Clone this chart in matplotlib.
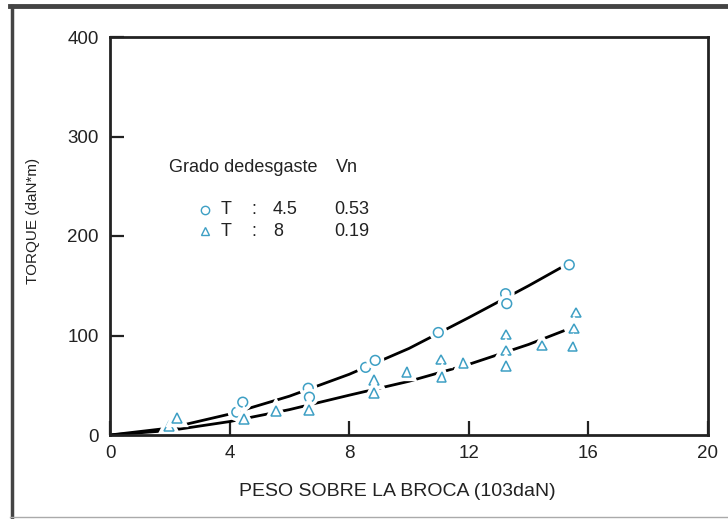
import matplotlib
matplotlib.use("Agg")
import matplotlib.pyplot as plt
import matplotlib.patheffects as pe
from matplotlib.lines import Line2D

plt.rcParams['font.family'] = ['Liberation Sans', 'DejaVu Sans']

# Measured points, bit wear T 4.5 (circles) and T 8 (triangles)
circ_x = [4.24, 4.44, 6.63, 6.67, 8.55, 8.87, 10.98, 13.23, 13.27, 15.36]
circ_y = [23, 33, 47, 38, 68, 75, 103, 142, 132, 171]
tri_x = [1.98, 2.25, 4.48, 5.54, 6.66, 8.82, 8.84, 9.92, 11.07, 11.09,
         11.82, 13.24, 13.24, 13.24, 14.46, 15.59, 15.53, 15.47]
tri_y = [9, 17, 16, 24, 25, 55, 42, 63, 76, 58,
         72, 101, 85, 69, 90, 123, 107, 89]

# Trend curves
circ_fit_x = [0, 2, 4, 6, 8, 10, 12, 14, 15.25]
circ_fit_y = [0, 7, 21, 39, 61, 87, 118, 150, 171]
tri_fit_x = [0, 2, 4, 6, 8, 10, 12, 14, 15.2]
tri_fit_y = [0, 4.5, 13.5, 25.5, 40, 54, 71, 91, 105]

x_ticks = [0, 4, 8, 12, 16, 20]
y_ticks = [0, 100, 200, 300, 400]

BLUE = '#3d9fc4'
INK = '#222222'

fig = plt.figure(figsize=(7.28, 5.19), dpi=100)
ax = fig.add_axes([110 / 728, 84 / 519, 598 / 728, 398 / 519])

ax.plot(circ_fit_x, circ_fit_y, color='black', lw=2.0, zorder=2,
        solid_capstyle='butt')
ax.plot(tri_fit_x, tri_fit_y, color='black', lw=2.0, zorder=2,
        solid_capstyle='butt')

halo = [pe.withStroke(linewidth=6, foreground='white')]
ax.plot(circ_x, circ_y, linestyle='none', marker='o', ms=7,
        mfc='white', mec=BLUE, mew=1.1, zorder=3, path_effects=halo)
ax.plot(tri_x, tri_y, linestyle='none', marker='^', ms=7,
        mfc='white', mec=BLUE, mew=1.1, zorder=3, path_effects=halo)

ax.set_xlim(0, 20)
ax.set_ylim(0, 400)
ax.set_xticks(x_ticks)
ax.set_yticks(y_ticks)
ax.tick_params(direction='in', length=10, width=1.6, labelsize=13.5,
               colors=INK)
ax.tick_params(axis='x', pad=7)
ax.tick_params(axis='y', pad=8)
for s in ax.spines.values():
    s.set_linewidth(2)
    s.set_color(INK)
    s.set_zorder(4)

fig.text(33 / 728, 1 - 221 / 519, 'TORQUE (daN*m)', rotation=90,
         ha='center', va='center', fontsize=11, color=INK)
fig.text(397 / 728, 1 - 492 / 519, 'PESO SOBRE LA BROCA (103daN)',
         ha='center', va='center', fontsize=14, color=INK)

# Legend block
def dx(px):
    return (px - 110) / 598 * 20

def dy(py):
    return (435 - py) / 398 * 400

tk = dict(fontsize=13, color=INK, va='center')
ax.text(dx(169), dy(167), 'Grado dedesgaste', ha='left', **tk)
ax.text(dx(336), dy(167), 'Vn', ha='left', **tk)
ax.plot([dx(205)], [dy(210)], marker='o', ms=6, mfc='white', mec=BLUE,
        mew=1.0, linestyle='none')
ax.plot([dx(205)], [dy(231)], marker='^', ms=5.5, mfc='white', mec=BLUE,
        mew=1.0, linestyle='none')
ax.text(dx(221), dy(210), 'T', ha='left', **tk)
ax.text(dx(221), dy(231), 'T', ha='left', **tk)
ax.text(dx(251), dy(210), ':', ha='left', **tk)
ax.text(dx(251), dy(231), ':', ha='left', **tk)
ax.text(dx(273), dy(210), '4.5', ha='left', **tk)
ax.text(dx(273), dy(231), '8', ha='left', **tk)
ax.text(dx(334), dy(210), '0.53', ha='left', **tk)
ax.text(dx(334), dy(231), '0.19', ha='left', **tk)

# Outer frame
fig.add_artist(Line2D([10 / 728, 1], [1 - 6 / 519, 1 - 6 / 519],
                      transform=fig.transFigure, color='#444444', lw=3.5))
fig.add_artist(Line2D([12 / 728, 12 / 728], [0, 1 - 6 / 519],
                      transform=fig.transFigure, color='#444444', lw=2.5))
fig.add_artist(Line2D([10 / 728, 1], [1 - 517 / 519, 1 - 517 / 519],
                      transform=fig.transFigure, color='#aaaaaa', lw=1))

fig.savefig('out.png', dpi=100)
